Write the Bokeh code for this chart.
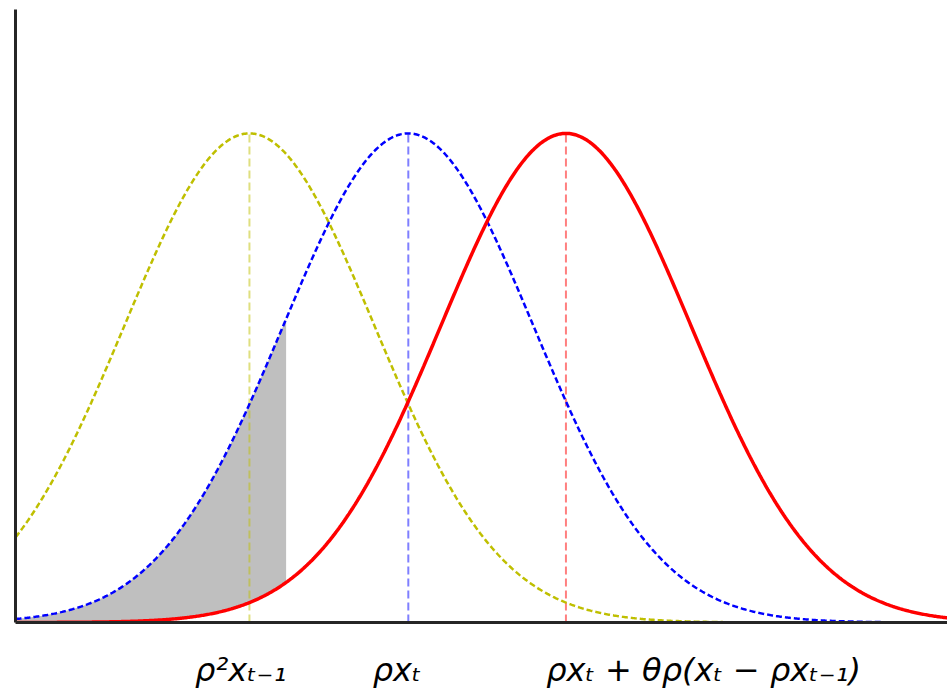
import numpy as np
from bokeh.plotting import figure
from bokeh.models import FixedTicker, Range1d
from bokeh.embed import file_html
from bokeh.resources import INLINE

# parameters (sigma units, blue mean at 0)
means = [-1.27, 0.0, 1.26]          # yellow, blue, red
sigma = 1.0
x_limits = [-3.14, 4.31]
y_limits = [0.0, 0.5]
shade_cut = -0.968
tick_x = [-1.34, -0.09, 2.36]
tick_labels = ["ρ²xₜ₋₁", "ρxₜ", "ρxₜ + θρ(xₜ − ρxₜ₋₁)"]

def pdf(x, m, s):
    return np.exp(-0.5 * ((x - m) / s) ** 2) / (s * np.sqrt(2 * np.pi))

xs = np.linspace(x_limits[0], x_limits[1], 800)
y_yel = pdf(xs, means[0], sigma)
y_blu = pdf(xs, means[1], sigma)
y_red = pdf(xs, means[2], sigma)

p = figure(width=947, height=697,
           x_range=Range1d(*x_limits), y_range=Range1d(*y_limits),
           output_backend="svg", toolbar_location=None,
           min_border_left=15, min_border_right=0, min_border_top=9, min_border_bottom=75)
p.outline_line_color = None
p.grid.visible = False
p.background_fill_color = "white"

# shaded region between red and blue curves
mask = xs <= shade_cut
p.varea(x=xs[mask], y1=y_red[mask], y2=y_blu[mask], fill_color="#bfbfbf")

# vertical dashed lines at means
vcols = ["#bfbf00", "#0000ff", "#ff0000"]
peak = pdf(0, 0, sigma)
for m, c in zip(means, vcols):
    p.line(x=[m, m], y=[0, peak], line_color=c, line_alpha=0.5, line_width=2, line_dash="8 4")

p.line(xs, y_yel, line_color="#bfbf00", line_width=2.5, line_dash="6 3")
p.line(xs, y_blu, line_color="#0000ff", line_width=2.5, line_dash="6 3")
p.line(xs, y_red, line_color="#ff0000", line_width=3.5)

xa = p.xaxis[0]
xa.ticker = FixedTicker(ticks=tick_x)
xa.major_label_overrides = {t: l for t, l in zip(tick_x, tick_labels)}
xa.major_tick_line_color = None
xa.minor_tick_line_color = None
xa.major_tick_out = 0
xa.major_label_standoff = 28
xa.major_label_text_font = "DejaVu Sans"
xa.major_label_text_font_style = "italic"
xa.major_label_text_font_size = "32px"
xa.major_label_text_color = "black"
xa.axis_line_width = 3
xa.axis_line_color = "#262626"

ya = p.yaxis[0]
ya.ticker = FixedTicker(ticks=[])
ya.major_tick_line_color = None
ya.minor_tick_line_color = None
ya.major_tick_out = 0
ya.major_label_standoff = 0
ya.major_label_text_font_size = "0px"
ya.axis_line_width = 3
ya.axis_line_color = "#262626"

open("out.html", "w").write(file_html(p, INLINE))
